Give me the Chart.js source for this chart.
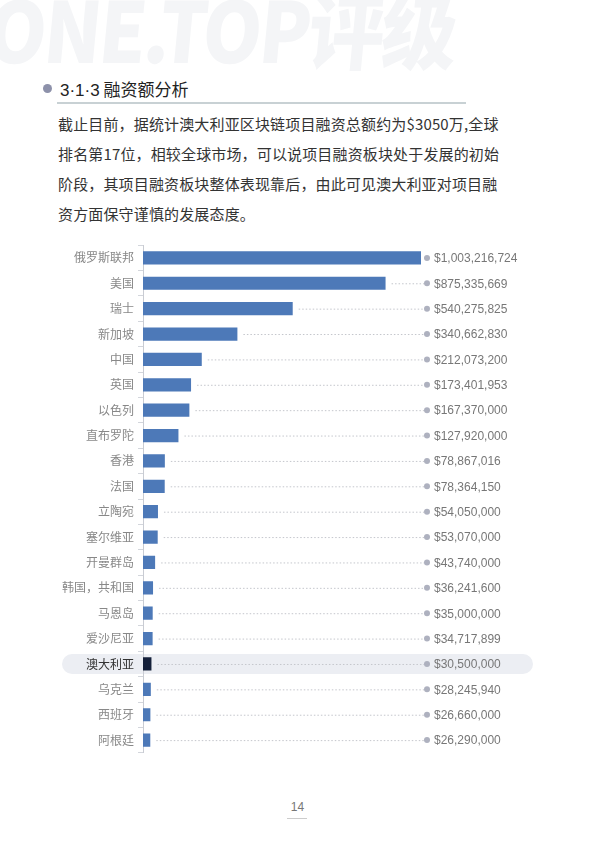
<!DOCTYPE html>
<html><head><meta charset="utf-8">
<script src="https://cdn.jsdelivr.net/npm/chart.js@4"></script>
<style>
body{margin:0;width:595px;height:841px;position:relative;background:#fff;font-family:"Noto Sans CJK SC","Noto Sans",sans-serif;overflow:hidden}
#wm{position:absolute;left:-6px;top:-34px;font:900 84px "Noto Sans CJK SC",sans-serif;color:#f4f5f7;letter-spacing:-3px;white-space:nowrap;transform:scaleX(0.9) skewX(-6deg);transform-origin:left top}
#dot{position:absolute;left:43px;top:84px;width:9px;height:9px;border-radius:50%;background:#8d91aa}
#title{position:absolute;left:60px;top:76px;font-size:17px;color:#222}
#title span{font-family:"Liberation Sans",sans-serif}
#rule{position:absolute;left:57px;top:102px;width:409px;height:2px;background:#c8d1d4}
#para{position:absolute;left:58px;top:109px;width:430px;font-size:15px;line-height:30px;color:#333;white-space:nowrap;letter-spacing:0.15px}
#wrap{position:absolute;left:0;top:234px;width:595px;height:530px}
#pg{position:absolute;left:0;width:595px;top:800px;text-align:center;font:12px "Liberation Sans",sans-serif;color:#777}
#pgl{position:absolute;left:287px;top:818px;width:20px;height:1px;background:#ccc}
</style></head><body>
<div id="wm">ONE.TOP评级</div>
<div id="dot"></div><div id="title"><span>3·1·3</span> 融资额分析</div><div id="rule"></div>
<div id="para">截止目前，据统计澳大利亚区块链项目融资总额约为$3050万,全球<br>排名第17位，相较全球市场，可以说项目融资板块处于发展的初始<br>阶段，其项目融资板块整体表现靠后，由此可见澳大利亚对项目融<br>资方面保守谨慎的发展态度。</div>
<div id="wrap"><canvas id="c"></canvas></div>
<div id="pg">14</div><div id="pgl"></div>
<script>
// data
const countries = ['俄罗斯联邦','美国','瑞士','新加坡','中国','英国','以色列','直布罗陀','香港','法国','立陶宛','塞尔维亚','开曼群岛','韩国，共和国','马恩岛','爱沙尼亚','澳大利亚','乌克兰','西班牙','阿根廷'];
const funding = [1003216724,875335669,540275825,340662830,212073200,173401953,167370000,127920000,78867016,78364150,54050000,53070000,43740000,36241600,35000000,34717899,30500000,28245940,26660000,26290000];
const highlight = '澳大利亚';

const hi = countries.indexOf(highlight);

const extras = {
  id: 'extras',
  beforeDraw(chart) {
    const ctx = chart.ctx, y = chart.scales.y;
    const yc = y.getPixelForValue(hi);
    ctx.save();
    ctx.fillStyle = '#eceef3';
    ctx.beginPath();
    ctx.roundRect(62, yc - 10, 471, 20, 10);
    ctx.fill();
    ctx.restore();
  },
  afterDatasetsDraw(chart) {
    const ctx = chart.ctx, x = chart.scales.x, y = chart.scales.y;
    ctx.save();
    funding.forEach((v, i) => {
      const yc = y.getPixelForValue(i);
      const xe = x.getPixelForValue(v);
      if (i > 0) {
        ctx.strokeStyle = '#c4c6cc'; ctx.lineWidth = 1; ctx.setLineDash([1.5, 2]);
        ctx.beginPath(); ctx.moveTo(xe + 6, yc + 0.5); ctx.lineTo(424, yc + 0.5); ctx.stroke();
      }
      ctx.setLineDash([]);
      ctx.fillStyle = '#aeb1bf';
      ctx.beginPath(); ctx.arc(427, yc, 3, 0, Math.PI * 2); ctx.fill();
      ctx.fillStyle = '#777'; ctx.font = '12px "Liberation Sans", sans-serif';
      ctx.textBaseline = 'middle';
      ctx.fillText('$' + v.toLocaleString('en-US'), 434, yc + 1);
    });
    ctx.restore();
  }
};

new Chart(document.getElementById('c'), {
  type: 'bar',
  data: {
    labels: countries,
    datasets: [{
      data: funding,
      backgroundColor: countries.map(c => c === highlight ? '#15203a' : '#4d79b8'),
      categoryPercentage: 1, barPercentage: 0.52
    }]
  },
  options: {
    indexAxis: 'y', responsive: true, maintainAspectRatio: false, animation: false,
    layout: { padding: { left: 0, right: 174, top: 0, bottom: 0 } },
    plugins: { legend: { display: false }, tooltip: { enabled: false } },
    scales: {
      x: { display: false, min: 0, max: 1003216724 },
      y: {
        afterFit(s) { s.width = 143; },
        border: { color: '#c9ccd3' },
        grid: { display: true, drawOnChartArea: false, offset: true, tickLength: 5, color: '#d3d6dc' },
        ticks: {
          padding: 4,
          color: ctx => ctx.index === hi ? '#333' : '#888',
          font: { size: 12, family: '"Noto Sans CJK SC"' }
        }
      }
    }
  },
  plugins: [extras]
});
</script>
</body></html>
